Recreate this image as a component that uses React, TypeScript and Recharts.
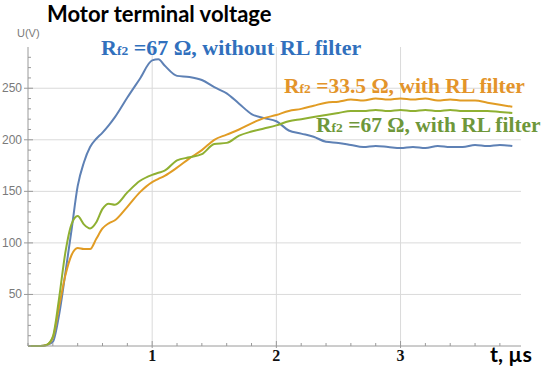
import { LineChart, Line, XAxis, YAxis, ReferenceLine } from "recharts"

// time in µs
const times = [
  0, 0.1, 0.15, 0.2, 0.25, 0.3, 0.35, 0.4, 0.45, 0.5, 0.55, 0.6, 0.65, 0.7, 0.8, 0.9, 1.0, 1.05, 1.1, 1.2,
  1.3, 1.4, 1.5, 1.6, 1.7, 1.8, 1.9, 2.0, 2.1, 2.2, 2.3, 2.4, 2.5, 2.6, 2.7, 2.8, 2.9, 3.0, 3.1, 3.2,
  3.3, 3.4, 3.5, 3.6, 3.7, 3.8, 3.9,
]

// Rf2 = 67 Ω, without RL filter
const noFilter67 = [
  0, 0, 1, 4, 30, 70, 112, 155, 178, 193, 201, 207, 214, 222, 241, 259, 277, 278, 272, 262,
  261, 258, 251, 245, 235, 225, 221, 218, 209, 206, 203, 198, 197, 195, 193, 194, 193, 192, 193, 192,
  194, 193, 193, 195, 194, 195, 194,
]

// Rf2 = 33.5 Ω, with RL filter
const filter335 = [
  0, 0, 1, 8, 38, 68, 88, 95, 94, 94, 104, 114, 119, 122, 135, 149, 159, 162, 165, 173,
  182, 190, 200, 205, 210, 216, 221, 224, 228, 230, 233, 236, 237, 239, 238, 240, 239, 240, 239, 240,
  238, 239, 238, 238, 236, 234, 232,
]

// Rf2 = 67 Ω, with RL filter
const filter67 = [
  0, 0, 1, 9, 46, 90, 118, 126, 118, 114, 120, 133, 138, 137, 149, 160, 166, 168, 170, 180,
  183, 186, 196, 197, 204, 208, 211, 214, 218, 220, 222, 224, 226, 228, 228, 229, 228, 229, 228, 229,
  228, 229, 228, 228, 228, 227, 226,
]

const xTicks = [0, 0.2, 0.4, 0.6, 0.8, 1, 1.2, 1.4, 1.6, 1.8, 2, 2.2, 2.4, 2.6, 2.8, 3, 3.2, 3.4, 3.6, 3.8]
const xLabels = [1, 2, 3]
const yTicks = [
  0, 10, 20, 30, 40, 50, 60, 70, 80, 90, 100, 110, 120, 130, 140, 150, 160, 170, 180, 190, 200, 210, 220,
  230, 240, 250, 260, 270, 280,
]
const yLabels = [50, 100, 150, 200, 250]

const data = times.map((t, i) => ({
  t,
  a: noFilter67[i],
  b: filter335[i],
  c: filter67[i],
}))

const axisGray = "#9a9a9a"

function XTick(props: any) {
  const { x, y, payload } = props
  const v = payload.value
  const major = xLabels.includes(v)
  return (
    <g>
      <line x1={x} x2={x} y1={y + (major ? 2 : 0)} y2={y - (major ? 5 : 3)} stroke={axisGray} strokeWidth={1} />
      {major && (
        <text x={x} y={y + 15} textAnchor="middle" fontFamily="Liberation Serif" fontWeight="bold" fontSize={16} fill="#111">
          {v}
        </text>
      )}
    </g>
  )
}

function YTick(props: any) {
  const { x, y, payload } = props
  const v = payload.value
  const major = yLabels.includes(v)
  return (
    <g>
      <line x1={x - (major ? 4 : 0)} x2={x + (major ? 5 : 3)} y1={y} y2={y} stroke={axisGray} strokeWidth={1} />
      {major && (
        <text x={x - 6} y={y + 4} textAnchor="end" fontFamily="Liberation Sans" fontSize={12} fill="#7a7a7a">
          {v}
        </text>
      )}
    </g>
  )
}

const serif = "Liberation Serif"

export default function App() {
  return (
    <div style={{ position: "absolute", left: 0, top: 0, width: 550, height: 380, background: "#fff" }}>
      <LineChart width={550} height={380} data={data} margin={{ top: 47, right: 29, left: 0, bottom: 4 }}>
        <XAxis
          dataKey="t"
          type="number"
          domain={[0, 3.97]}
          ticks={xTicks}
          interval={0}
          tick={<XTick />}
          tickLine={false}
          tickSize={0}
          tickMargin={0}
          height={30}
          stroke={axisGray}
        />
        <YAxis
          type="number"
          domain={[0, 290]}
          ticks={yTicks}
          interval={0}
          tick={<YTick />}
          tickLine={false}
          tickSize={0}
          tickMargin={0}
          width={28}
          stroke={axisGray}
        />
        {xLabels.map((v) => (
          <ReferenceLine key={"x" + v} x={v} stroke="#dadada" strokeWidth={1} />
        ))}
        {yLabels.map((v) => (
          <ReferenceLine key={"y" + v} y={v} stroke="#dadada" strokeWidth={1} />
        ))}
        <Line type="monotone" dataKey="a" stroke="#5E81B5" strokeWidth={2} dot={false} isAnimationActive={false} />
        <Line type="monotone" dataKey="b" stroke="#E19C24" strokeWidth={2} dot={false} isAnimationActive={false} />
        <Line type="monotone" dataKey="c" stroke="#8FB032" strokeWidth={2} dot={false} isAnimationActive={false} />
      </LineChart>
      <svg width={550} height={380} style={{ position: "absolute", left: 0, top: 0, pointerEvents: "none" }}>
        <text x={47} y={22} fontFamily="Lato" fontWeight="bold" fontSize={22} fill="#000">
          Motor terminal voltage
        </text>
        <text x={17} y={37} fontFamily="Liberation Sans" fontSize={11} fill="#7a7a7a">
          U(V)
        </text>
        <text x={101} y={55} fontFamily={serif} fontWeight="bold" fontSize={22} fill="#3170BD">
          R<tspan fontSize={13.5}>f2</tspan> =67 Ω, without RL filter
        </text>
        <text x={284} y={93} fontFamily={serif} fontWeight="bold" fontSize={21.5} fill="#E3942A">
          R<tspan fontSize={13.5}>f2</tspan> =33.5 Ω, with RL filter
        </text>
        <text x={316} y={132} fontFamily={serif} fontWeight="bold" fontSize={21.5} fill="#6E973A">
          R<tspan fontSize={13.5}>f2</tspan> =67 Ω, with RL filter
        </text>
        <text x={490} y={362} fontFamily="Lato" fontWeight="bold" fontSize={21.5} fill="#000">
          t, µs
        </text>
      </svg>
    </div>
  )
}
